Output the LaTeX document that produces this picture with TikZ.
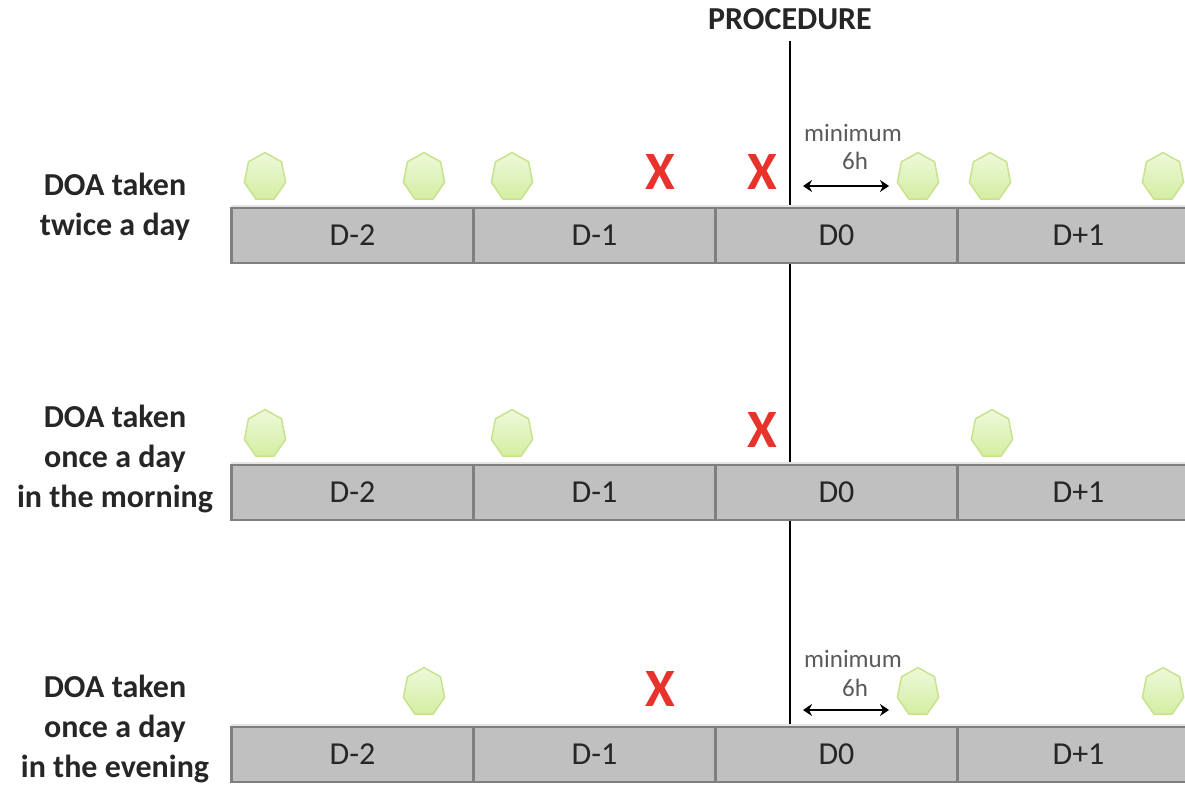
\documentclass[tikz,border=0pt]{standalone}
\usepackage{fontspec}
\setmainfont{Carlito}
\usetikzlibrary{shapes.geometric,arrows.meta}
\definecolor{barfill}{HTML}{C0C0C0}
\definecolor{barline}{HTML}{7F7F7F}
\definecolor{barshadow}{HTML}{E4E4E4}
\definecolor{pilltop}{HTML}{EEF9DA}
\definecolor{pillbot}{HTML}{D3EEA2}
\definecolor{pilledge}{HTML}{C8E28E}
\definecolor{xred}{HTML}{E8332C}
\definecolor{txt}{HTML}{262626}
\definecolor{small}{HTML}{5A5A5A}
\begin{document}
\begin{tikzpicture}[x=1pt,y=-1pt,
 day/.style={rectangle, draw=barline, line width=2.5pt, fill=barfill, minimum width=242pt, minimum height=55pt, inner sep=0pt, font=\fontsize{32}{34}\selectfont, text=txt},
 pill/.style={regular polygon, regular polygon sides=7, minimum size=47pt, inner sep=0pt, draw=pilledge, line width=1.5pt, top color=pilltop, bottom color=pillbot, xscale=0.9, yscale=1.04, transform shape},
 cross/.style={text=xred, font=\fontsize{54}{54}\selectfont\bfseries, inner sep=0pt},
 rowlabel/.style={align=center, font=\fontsize{32}{40}\selectfont\bfseries, text=txt},
 note/.style={text=small, font=\fontsize{25}{28}\selectfont, inner sep=0pt},
 dbl/.style={{Stealth[length=9pt,width=12pt]}-{Stealth[length=9pt,width=12pt]}, line width=2.5pt, black},
 procline/.style={line width=2.5pt, black},
 shadowline/.style={line width=3pt, barshadow}
]
\useasboundingbox (0,0) rectangle (1185,784);
\clip (0,0) rectangle (1185,784);

% procedure label and line
\node[font=\fontsize{32}{34}\selectfont\bfseries, text=txt] (proc) at (790,19) {PROCEDURE};
\coordinate (procend) at (790,727);
\path (proc.south -| procend) ++(0,8) coordinate (procstart);
\draw[procline] (procstart) -- (procend);

% row labels
\node[rowlabel] (lab1) at (115,207) {DOA taken\\twice a day};
\node[rowlabel] (lab2) at (115,459) {DOA taken\\once a day\\in the morning};
\node[rowlabel] (lab3) at (115,729) {DOA taken\\once a day\\in the evening};

% bars
\foreach \r/\y in {1/235.5, 2/492.5, 3/754.5}{
  \draw[shadowline] (231,\y-29.5) -- (1200,\y-29.5);
  \node[day] (d\r m2) at (352.5,\y) {D-2};
  \node[day] (d\r m1) at (594.5,\y) {D-1};
  \node[day] (d\r z)  at (836.5,\y) {D0};
  \node[day] (d\r p1) at (1078.5,\y) {D+1};
}

% row 1
\node[pill] (p11) at (265,177) {};
\node[pill] (p12) at (424,177) {};
\node[pill] (p13) at (512,177) {};
\node[pill] (p14) at (918,177) {};
\node[pill] (p15) at (990,177) {};
\node[pill] (p16) at (1163,177) {};
\node[cross] (x11) at (660,172) {X};
\node[cross] (x12) at (762,172) {X};
\node[note] (min1) at (853,133) {minimum};
\node[note] (h1) at (855,161) {6h};
\coordinate (a1l) at (803,186);
\coordinate (a1r) at (889,186);
\draw[dbl] (a1l) -- (a1r);

% row 2
\node[pill] (p21) at (265,434) {};
\node[pill] (p22) at (512,434) {};
\node[pill] (p23) at (992,434) {};
\node[cross] (x21) at (762,430) {X};

% row 3
\node[pill] (p31) at (424,692) {};
\node[pill] (p32) at (918,692) {};
\node[pill] (p33) at (1163,692) {};
\node[cross] (x31) at (660,689) {X};
\node[note] (min3) at (853,659) {minimum};
\node[note] (h3) at (855,688) {6h};
\coordinate (a3l) at (803,710);
\coordinate (a3r) at (889,710);
\draw[dbl] (a3l) -- (a3r);
\end{tikzpicture}
\end{document}
